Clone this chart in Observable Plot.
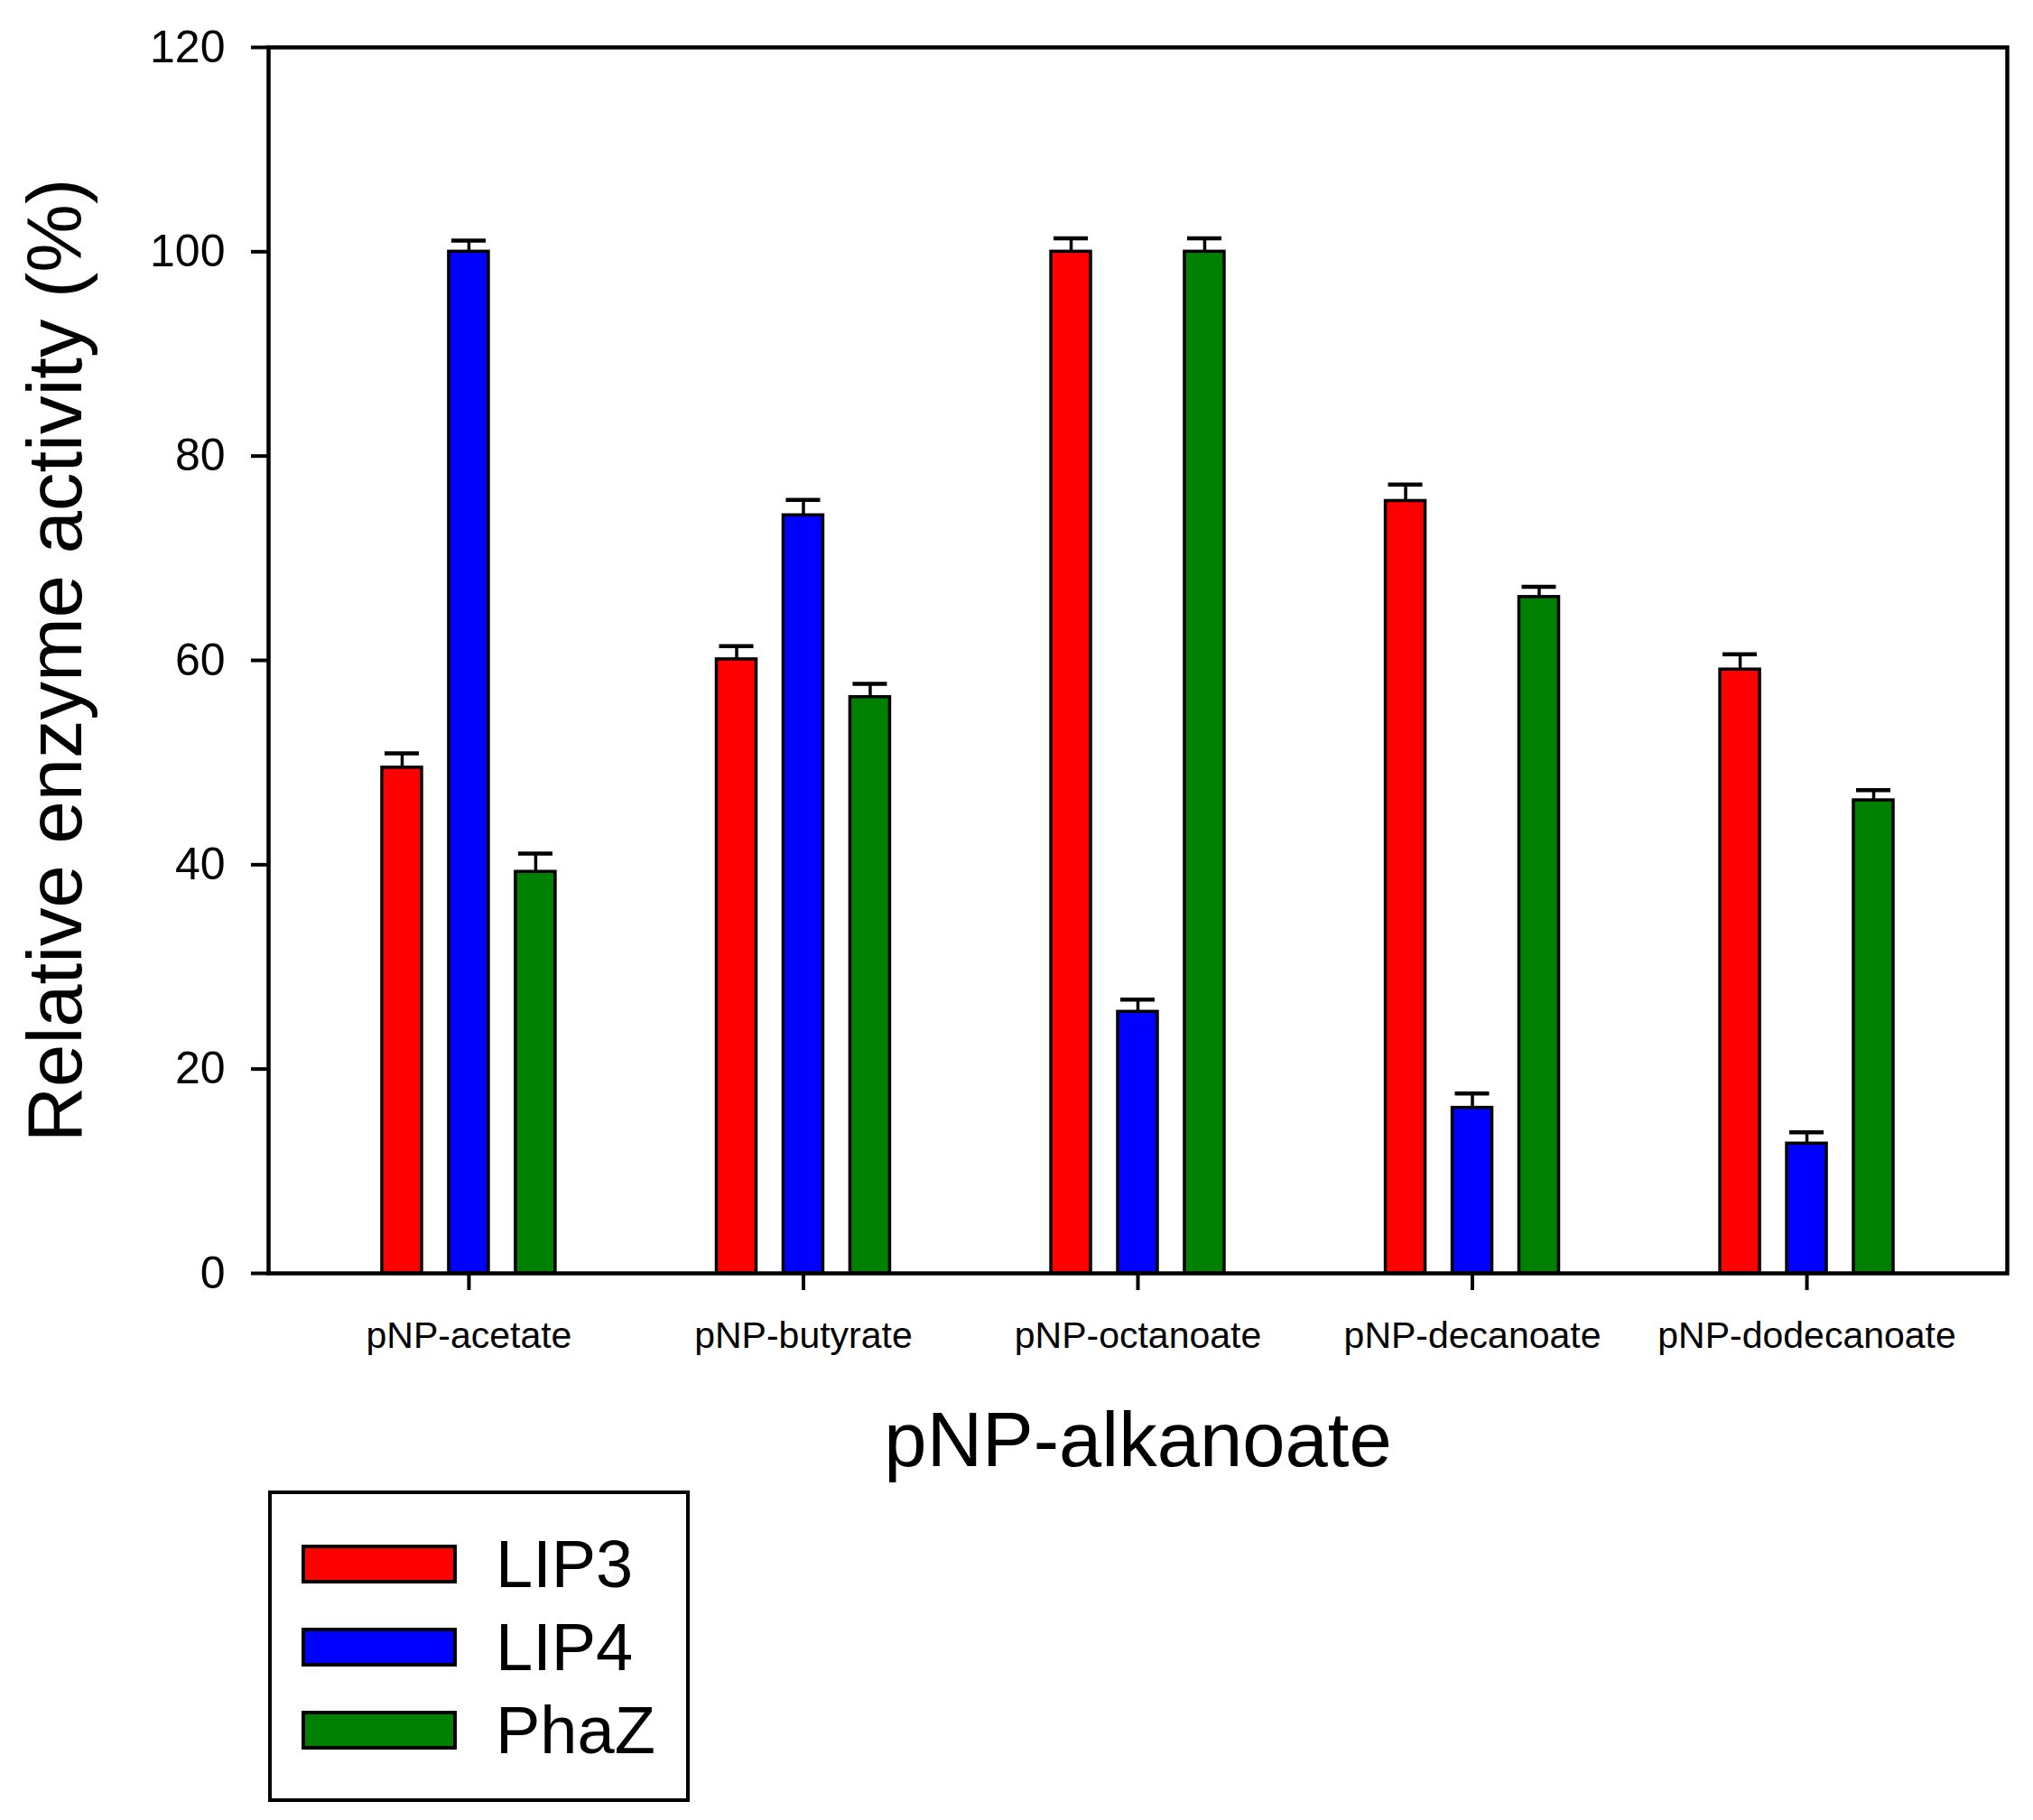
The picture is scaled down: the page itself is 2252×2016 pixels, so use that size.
<!DOCTYPE html>
<html>
<head>
<meta charset="utf-8">
<script src="https://cdn.jsdelivr.net/npm/d3@7"></script>
<script src="https://cdn.jsdelivr.net/npm/@observablehq/plot@0.6"></script>
<style>
  html, body { margin: 0; padding: 0; background: white; overflow: hidden; }
  #chart svg { display: block; }
  #chart g[aria-label="y-axis label"], #chart g[aria-label="fx-axis label"] { font-size: 85px; }
  #legend {
    margin-left: 297px;
    width: 467px;
    height: 345px;
    box-sizing: border-box;
    border: 4px solid black;
    padding: 32px 0 0 35px;
  }
  #legend .lg-swatch { height: 91px; display: flex; align-items: center; }
  #legend .lg-swatch > svg { margin-right: 45px; overflow: visible; }
  #legend .lg-swatch > svg rect { stroke: black; stroke-width: 4px; }
</style>
</head>
<body>
<div id="chart"></div>
<div id="legend"></div>
<script>
const substrates = ["pNP-acetate", "pNP-butyrate", "pNP-octanoate", "pNP-decanoate", "pNP-dodecanoate"];
const enzymes = ["LIP3", "LIP4", "PhaZ"];
const colors = ["#ff0000", "#0000ff", "#008000"];

// relative activity (%) and upper error, one value per substrate
const lip3 = [49.5, 60.1, 100, 75.6, 59.1];
const lip3Err = [1.4, 1.3, 1.3, 1.6, 1.5];
const lip4 = [100, 74.2, 25.6, 16.2, 12.7];
const lip4Err = [1.1, 1.5, 1.2, 1.4, 1.1];
const phaz = [39.3, 56.4, 100, 66.2, 46.3];
const phazErr = [1.8, 1.3, 1.3, 1.0, 1.0];

const yTicks = [0, 20, 40, 60, 80, 100, 120];

const series = [[lip3, lip3Err], [lip4, lip4Err], [phaz, phazErr]];
const rows = substrates.flatMap((s, i) =>
  enzymes.map((e, j) => ({substrate: s, enzyme: e, value: series[j][0][i], err: series[j][1][i]}))
);

const width = 2252;
const marginLeft = 297;
const marginRight = 29;
const fxPadInner = 0.482;
const fxPadOuter = 0.34;
// facets don't reach the outer frame, so the y axis and the box are pushed back out by the outer padding
const fxStep = (width - marginLeft - marginRight) / (substrates.length - fxPadInner + 2 * fxPadOuter);
const axisShift = fxPadOuter * fxStep;

const chart = Plot.plot({
  width,
  height: 1651,
  marginTop: 52,
  marginRight,
  marginBottom: 241,
  marginLeft,
  style: {fontFamily: "'Liberation Sans', Arial, sans-serif", background: "white", color: "black"},
  fx: {domain: substrates, paddingInner: fxPadInner, paddingOuter: fxPadOuter, round: false},
  x: {domain: enzymes, paddingInner: 0.405, paddingOuter: 0, round: false, axis: null},
  y: {domain: [0, 120]},
  color: {domain: enzymes, range: colors},
  marks: [
    Plot.ruleX(rows, {fx: "substrate", x: "enzyme", y1: "value", y2: d => d.value + d.err, stroke: "black", strokeWidth: 3.5}),
    Plot.tickY(rows, {fx: "substrate", x: "enzyme", y: d => d.value + d.err, stroke: "black", strokeWidth: 4.5, insetLeft: 3, insetRight: 3}),
    Plot.barY(rows, {fx: "substrate", x: "enzyme", y: "value", fill: "enzyme", stroke: "black", strokeWidth: 3.5}),
    Plot.frame({facet: "super", stroke: "black", strokeWidth: 4.5, insetLeft: -axisShift, insetRight: -axisShift}),
    Plot.axisY({
      ticks: yTicks,
      dx: -axisShift,
      tickSize: 19,
      tickPadding: 29,
      strokeWidth: 4,
      fontSize: 50,
      label: "Relative enzyme activity (%)",
      labelAnchor: "center",
      labelArrow: "none",
      labelOffset: 268 + axisShift
    }),
    Plot.axisFx({
      anchor: "bottom",
      tickSize: 19,
      tickPadding: 34,
      strokeWidth: 4,
      fontSize: 41,
      label: "pNP-alkanoate",
      labelAnchor: "center",
      labelOffset: 213
    })
  ]
});
document.getElementById("chart").append(chart);

const legend = chart.legend("color", {
  legend: "swatches",
  columns: 1,
  swatchWidth: 168,
  swatchHeight: 39,
  className: "lg",
  style: {fontSize: "74px", fontFamily: "'Liberation Sans', Arial, sans-serif", color: "black", margin: "0"}
});
document.getElementById("legend").append(legend);
</script>
</body>
</html>
